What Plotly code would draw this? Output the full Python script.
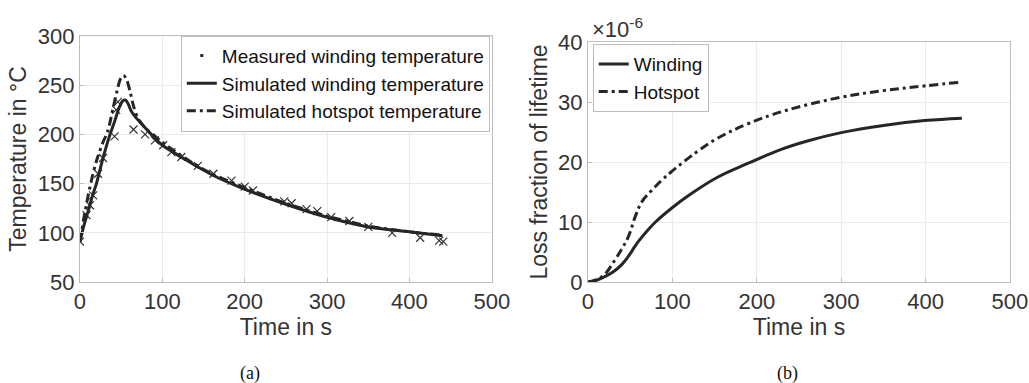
import plotly.graph_objects as go

# ---- Panel (a): temperatures ----
t_meas = [0, 8, 12, 16, 22, 28, 42, 44, 46, 65, 79, 91, 101, 111, 123, 143, 162, 184,
          200, 210, 248, 257, 275, 288, 305, 327, 350, 379, 413, 436, 441]
T_meas = [91, 118, 128, 138, 160, 176, 198, 225, 233, 205, 200, 194, 189, 182, 177, 168,
          160, 153, 147, 143, 132, 130, 124, 122, 116, 112, 106, 100, 95, 92, 91]

t_wind = [0, 5, 10, 15, 20, 28, 35, 42, 48, 52, 55, 58, 62, 69, 80, 91, 100, 115, 133,
          143, 160, 198, 250, 299, 350, 400, 440]
T_wind = [91, 108, 122, 137, 150, 176, 196, 213, 228, 234, 235, 232, 224, 216, 206, 196,
          189, 181, 172, 167, 159, 145, 129, 116, 106, 101, 97]

t_hot = [0, 5, 10, 15, 20, 27, 34, 40, 45, 49, 53, 57, 61, 65, 70, 75, 80, 90, 100,
         115, 133, 160, 200, 250, 300, 350, 400, 440]
T_hot = [91, 116, 138, 157, 173, 190, 204, 226, 244, 256, 260, 255, 243, 229, 217,
         211, 206, 199, 192, 183, 173, 160, 146, 130, 117, 107, 101, 97.5]

# ---- Panel (b): loss fraction of lifetime (x 1e-6) ----
t_lw = [0, 10, 20, 30, 40, 48, 55, 60, 70, 80, 99, 120, 154, 190, 229, 260, 300, 350, 399, 443]
L_w = [0, 0.3, 0.9, 1.7, 2.9, 4.3, 5.8, 6.8, 8.5, 10.0, 12.3, 14.5, 17.5, 19.8, 22.1, 23.5,
       24.9, 26.1, 26.9, 27.3]

t_lh = [0, 10, 20, 32, 40, 48, 56, 64, 75, 87, 99, 115, 131, 154, 190, 230, 300, 350, 400, 441]
L_h = [0, 0.4, 1.3, 3.7, 5.5, 7.6, 10.9, 13.4, 15.2, 16.9, 18.4, 20.2, 21.9, 24.0, 26.4,
       28.4, 30.8, 31.9, 32.7, 33.3]

INK = "#262626"
AXC = "#bdbdbd"
GRID = "#ebebeb"
TXT = "#333333"
FONT = "Liberation Sans, Arial, sans-serif"
DASHDOT = "9px,4px,3px,4px"

fig = go.Figure()

# legend-only marker for measured
fig.add_trace(go.Scatter(x=[None], y=[None], mode="markers", name="Measured winding temperature",
                         marker=dict(symbol="square", size=3, color=INK),
                         xaxis="x", yaxis="y", legend="legend"))
fig.add_trace(go.Scatter(x=t_meas, y=T_meas, mode="markers", showlegend=False,
                         marker=dict(symbol="x-thin", size=8, line=dict(width=1.2, color="#333333")),
                         xaxis="x", yaxis="y"))
fig.add_trace(go.Scatter(x=t_wind, y=T_wind, mode="lines", name="Simulated winding temperature",
                         line=dict(color=INK, width=3, shape="spline", smoothing=0.8),
                         xaxis="x", yaxis="y", legend="legend"))
fig.add_trace(go.Scatter(x=t_hot, y=T_hot, mode="lines", name="Simulated hotspot temperature",
                         line=dict(color=INK, width=3, dash=DASHDOT, shape="spline", smoothing=0.8),
                         xaxis="x", yaxis="y", legend="legend"))

fig.add_trace(go.Scatter(x=t_lw, y=L_w, mode="lines", name="Winding",
                         line=dict(color=INK, width=3, shape="spline", smoothing=1.1),
                         xaxis="x2", yaxis="y2", legend="legend2"))
fig.add_trace(go.Scatter(x=t_lh, y=L_h, mode="lines", name="Hotspot",
                         line=dict(color=INK, width=3, dash=DASHDOT, shape="spline", smoothing=1.1),
                         xaxis="x2", yaxis="y2", legend="legend2"))

axis_common = dict(showgrid=True, gridcolor=GRID, gridwidth=1, showline=True, linecolor=AXC,
                   linewidth=1, mirror=True, ticks="inside", ticklen=4, tickcolor=AXC,
                   zeroline=False, automargin=False,
                   tickfont=dict(size=22, color=TXT, family=FONT))

fig.update_layout(
    width=1029, height=383, margin=dict(l=0, r=0, t=0, b=0),
    paper_bgcolor="white", plot_bgcolor="white",
    font=dict(family=FONT, color=TXT),
    xaxis=dict(domain=[0.0777, 0.478], range=[0, 500], dtick=100, anchor="y",
               title=dict(text="Time in s", font=dict(size=23, color=TXT), standoff=4),
               **axis_common),
    yaxis=dict(domain=[0.2637, 0.906], range=[50, 300], dtick=50, anchor="x",
               title=dict(text="Temperature in \u00b0C", font=dict(size=23, color=TXT), standoff=4),
               **axis_common),
    xaxis2=dict(domain=[0.5714, 0.9815], range=[0, 500], dtick=100, anchor="y2",
                title=dict(text="Time in s", font=dict(size=23, color=TXT), standoff=4),
                **axis_common),
    yaxis2=dict(domain=[0.2637, 0.8903], range=[0, 40], dtick=10, anchor="x2",
                title=dict(text="Loss fraction of lifetime", font=dict(size=23, color=TXT), standoff=4),
                **axis_common),
    legend=dict(x=0.476, xanchor="right", y=0.907, yanchor="top", bgcolor="white",
                bordercolor=AXC, borderwidth=1, font=dict(size=19, color="#111111", family=FONT),
                tracegroupgap=0, itemwidth=30),
    legend2=dict(x=0.576, xanchor="left", y=0.885, yanchor="top", bgcolor="white",
                 bordercolor=AXC, borderwidth=1, font=dict(size=19, color="#111111", family=FONT),
                 itemwidth=30),
    annotations=[
        dict(text="\u00d710<sup>-6</sup>", x=0.573, y=1 - 28 / 383, xref="paper", yref="paper",
             xanchor="left", yanchor="middle", showarrow=False,
             font=dict(size=22, color=TXT, family=FONT)),
        dict(text="(a)", x=250 / 1029, y=1 - 373 / 383, xref="paper", yref="paper",
             xanchor="center", yanchor="middle", showarrow=False,
             font=dict(size=18, color="#111111", family="Liberation Serif, Times New Roman, serif")),
        dict(text="(b)", x=787 / 1029, y=1 - 373 / 383, xref="paper", yref="paper",
             xanchor="center", yanchor="middle", showarrow=False,
             font=dict(size=18, color="#111111", family="Liberation Serif, Times New Roman, serif")),
    ],
)

fig.write_html("out.html")
